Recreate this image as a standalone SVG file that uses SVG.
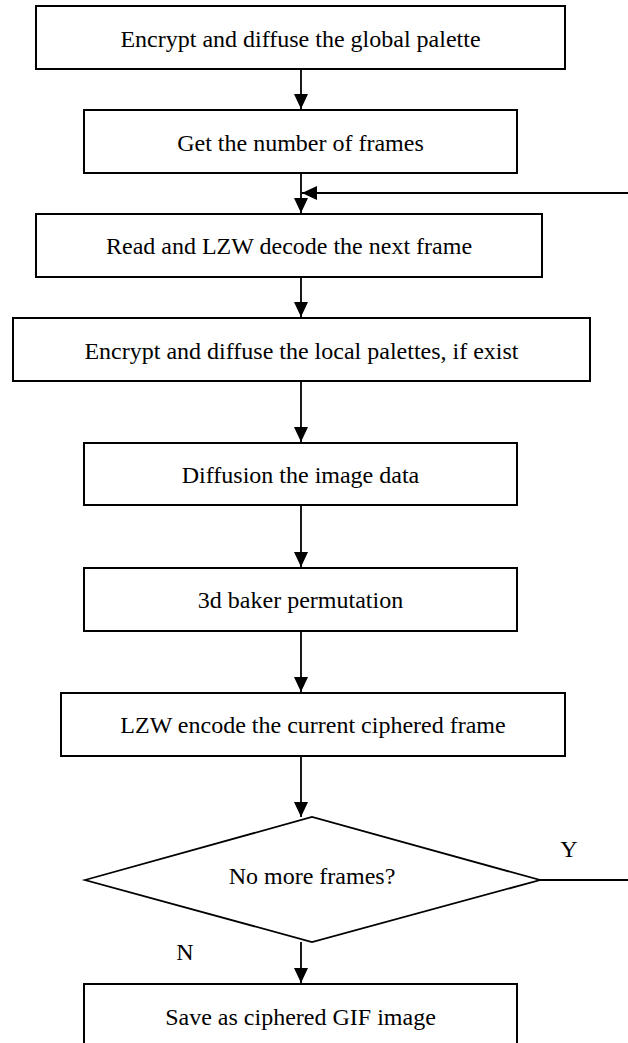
<svg xmlns="http://www.w3.org/2000/svg" width="628" height="1043" viewBox="0 0 628 1043">
  <style>
    .box { fill: #ffffff; stroke: #000000; stroke-width: 2; }
    .lbl { font-family: "Liberation Serif", "Times New Roman", serif; font-size: 24px; fill: #000000; text-anchor: middle; }
    .wire { fill: none; stroke: #000000; stroke-width: 1.8; }
  </style>
  <defs>
    <marker id="arrow" viewBox="0 0 15 14" refX="15" refY="7" markerWidth="15" markerHeight="14" markerUnits="userSpaceOnUse" orient="auto">
      <path d="M0,0 L15,7 L0,14 Z" fill="#000000"/>
    </marker>
  </defs>
  <rect x="0" y="0" width="628" height="1043" fill="#ffffff"/>

  <g id="connectors">
    <line class="wire" x1="301" y1="69" x2="301" y2="109" marker-end="url(#arrow)"/>
    <line class="wire" x1="301" y1="173" x2="301" y2="213" marker-end="url(#arrow)"/>
    <line class="wire" x1="628" y1="193" x2="302" y2="193" marker-end="url(#arrow)"/>
    <line class="wire" x1="301" y1="277" x2="301" y2="317" marker-end="url(#arrow)"/>
    <line class="wire" x1="301" y1="381" x2="301" y2="442" marker-end="url(#arrow)"/>
    <line class="wire" x1="301" y1="505" x2="301" y2="567" marker-end="url(#arrow)"/>
    <line class="wire" x1="301" y1="631" x2="301" y2="692" marker-end="url(#arrow)"/>
    <line class="wire" x1="301" y1="756" x2="301" y2="817" marker-end="url(#arrow)"/>
    <line class="wire" x1="540" y1="880" x2="628" y2="880"/>
    <line class="wire" x1="301" y1="942" x2="301" y2="983" marker-end="url(#arrow)"/>
    <text class="lbl" x="569" y="857">Y</text>
    <text class="lbl" x="185" y="960">N</text>
  </g>

  <g id="encrypt-global">
    <rect class="box" x="36" y="6" width="529" height="63"/>
    <text class="lbl" x="300.5" y="46.5">Encrypt and diffuse the global palette</text>
  </g>
  <g id="frame-count">
    <rect class="box" x="84" y="110" width="433" height="63"/>
    <text class="lbl" x="300.5" y="150.5">Get the number of frames</text>
  </g>
  <g id="read-decode">
    <rect class="box" x="36" y="214" width="506" height="63"/>
    <text class="lbl" x="289" y="254">Read and LZW decode the next frame</text>
  </g>
  <g id="encrypt-local">
    <rect class="box" x="13" y="318" width="577" height="63"/>
    <text class="lbl" x="301.5" y="358.5">Encrypt and diffuse the local palettes, if exist</text>
  </g>
  <g id="diffusion">
    <rect class="box" x="84" y="443" width="433" height="62"/>
    <text class="lbl" x="300.5" y="482.5">Diffusion the image data</text>
  </g>
  <g id="baker">
    <rect class="box" x="84" y="568" width="433" height="63"/>
    <text class="lbl" x="300.5" y="608">3d baker permutation</text>
  </g>
  <g id="lzw-encode">
    <rect class="box" x="61" y="693" width="504" height="63"/>
    <text class="lbl" x="313" y="733">LZW encode the current ciphered frame</text>
  </g>
  <g id="more-frames">
    <polygon class="box" points="85,880 312,817 540,880 312,942" style="stroke-width:1.8"/>
    <text class="lbl" x="312" y="884">No more frames?</text>
  </g>
  <g id="save">
    <rect class="box" x="84" y="984" width="433" height="70"/>
    <text class="lbl" x="300.5" y="1025">Save as ciphered GIF image</text>
  </g>
</svg>
